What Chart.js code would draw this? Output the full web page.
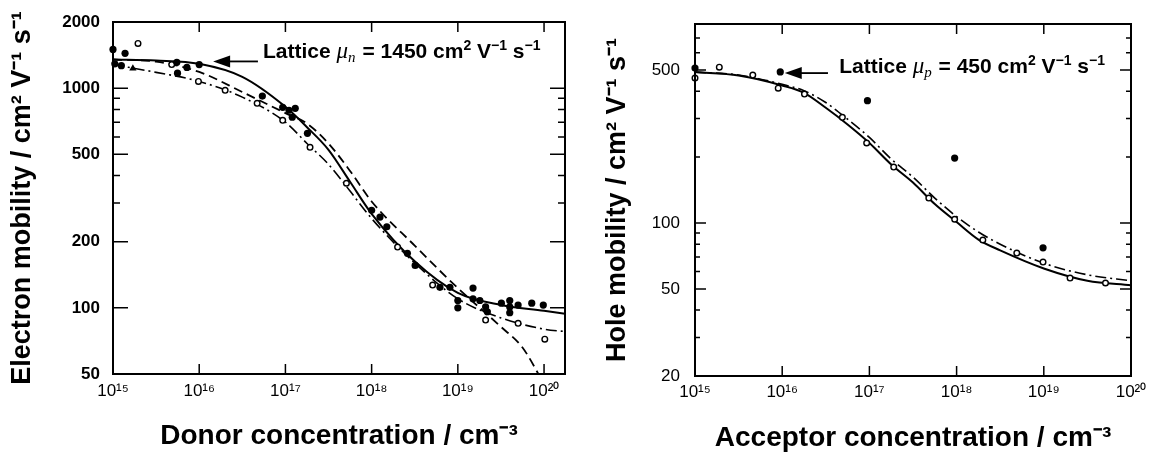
<!DOCTYPE html>
<html><head><meta charset="utf-8">
<script src="https://cdn.jsdelivr.net/npm/chart.js@4.4.1/dist/chart.umd.min.js"></script>
<style>
html,body{margin:0;padding:0;background:#fff;}
#wrap{position:relative;width:1160px;height:457px;overflow:hidden;}
.c{position:absolute;top:0;width:580px;height:457px;}
canvas{display:block;}
</style></head><body>
<div id="wrap">
<div class="c" style="left:0"><canvas id="left" width="580" height="457" style="width:580px;height:457px"></canvas></div>
<div class="c" style="left:580px"><canvas id="right" width="580" height="457" style="width:580px;height:457px"></canvas></div>
</div>
<script>
// ---------- tick labels ----------
const xTickVals = [1e15, 1e16, 1e17, 1e18, 1e19, 1e20];
const xTickLabels = ['10¹⁵', '10¹⁶', '10¹⁷', '10¹⁸', '10¹⁹', '10²⁰'];
const yMajorLeft = [50, 100, 200, 500, 1000, 2000];
const yMajorLeftLabels = ['50', '100', '200', '500', '1000', '2000'];
const yMinorLeft = [300, 400, 600, 700, 800, 900];
const yMajorRight = [20, 50, 100, 500];
const yMajorRightLabels = ['20', '50', '100', '500'];
const yMinorRight = [30, 40, 60, 70, 80, 90, 200, 300, 400, 600, 700];

// ---------- electron mobility vs donor concentration (left) ----------
const nSolidL = [1e15, 3.16e15, 1e16, 3.16e16, 1e17, 1.78e17, 3.16e17, 5.62e17, 1e18, 3.16e18, 1e19, 3.16e19, 1e20, 1.75e20];
const muSolidL = [1350, 1335, 1290, 1125, 822, 664, 524, 375, 268, 163, 117, 103, 97, 94];
const nDashL = [1e15, 3.16e15, 1e16, 3.16e16, 1e17, 1.78e17, 3.16e17, 5.62e17, 1e18, 3.16e18, 1e19, 3.16e19, 5.62e19, 1e20];
const muDashL = [1350, 1320, 1185, 960, 770, 690, 560, 420, 305, 192, 123, 82, 66, 45];
const nDashDotL = [1e15, 3.16e15, 1e16, 3.16e16, 1e17, 1.78e17, 3.16e17, 5.62e17, 1e18, 3.16e18, 1e19, 3.16e19, 1e20, 1.75e20];
const muDashDotL = [1280, 1180, 1073, 910, 700, 560, 450, 340, 255, 160, 110, 90, 80, 78];
const nFilledL = [1e15, 1.38e15, 1.05e15, 1.25e15, 5.5e15, 5.6e15, 7.2e15, 1e16, 5.4e16, 9.3e16, 1.1e17, 1.3e17, 1.2e17, 1.8e17, 1e18, 1.25e18, 1.5e18, 2.6e18, 3.2e18, 6.2e18, 8.1e18, 1e19, 1e19, 1.5e19, 1.5e19, 1.8e19, 2.1e19, 2.2e19, 3.2e19, 4e19, 4e19, 4e19, 5e19, 7.2e19, 9.8e19];
const muFilledL = [1500, 1440, 1290, 1265, 1310, 1170, 1243, 1280, 920, 818, 793, 809, 737, 623, 278, 259, 234, 177, 156, 124, 124, 108, 100, 123, 110, 108, 101, 96, 105, 108, 101, 95, 103, 105, 103];
const nOpenL = [1.95e15, 4.8e15, 9.8e15, 2e16, 4.7e16, 9.3e16, 1.93e17, 5.1e17, 2e18, 5.1e18, 2.1e19, 5e19, 1.02e20];
const muOpenL = [1598, 1280, 1073, 977, 853, 714, 538, 369, 189, 127, 88, 85, 72];
const nTriL = [1.7e15];
const muTriL = [1230];

// ---------- hole mobility vs acceptor concentration (right) ----------
const nSolidR = [1e15, 3.16e15, 1e16, 1.78e16, 3.16e16, 5.62e16, 1e17, 1.78e17, 3.16e17, 5.62e17, 1e18, 1.78e18, 3.16e18, 1e19, 3.16e19, 1e20];
const muSolidR = [489, 472, 425, 393, 336, 282, 232, 185, 153, 122, 101, 84, 75, 62, 54.5, 52];
const nDashDotR = [1e15, 3.16e15, 1e16, 1.78e16, 3.16e16, 5.62e16, 1e17, 1.78e17, 3.16e17, 5.62e17, 1e18, 1.78e18, 3.16e18, 1e19, 3.16e19, 1e20];
const muDashDotR = [489, 474, 430, 402, 355, 298, 246, 196, 162, 130, 107, 91, 80, 65.5, 58, 54.5];
const nFilledR = [1e15, 9.5e15, 9.5e16, 9.5e17, 9.8e18];
const muFilledR = [510, 490, 362, 198, 77];
const nOpenR = [1e15, 1.9e15, 4.6e15, 9e15, 1.8e16, 4.9e16, 9.3e16, 1.9e17, 4.8e17, 9.5e17, 2e18, 4.9e18, 9.8e18, 2e19, 5.1e19];
const muOpenR = [459, 515, 474, 413, 388, 304, 232, 180, 130, 104, 83.6, 72.9, 66.3, 56, 53.2];

const FONT = '"Liberation Sans", Arial, Helvetica, sans-serif';
const SERIF = '"Liberation Serif", "DejaVu Serif", serif';

function pts(xs, ys) { return xs.map((x, i) => ({ x: x, y: ys[i] })); }

function lineDs(xs, ys, dash, width) {
  return { data: pts(xs, ys), showLine: true, borderColor: '#000', borderWidth: width,
    borderDash: dash, pointRadius: 0, fill: false, tension: 0.4, cubicInterpolationMode: 'monotone' };
}
function filledDs(xs, ys) {
  return { data: pts(xs, ys), showLine: false, pointRadius: 3.6, pointStyle: 'circle',
    backgroundColor: '#000', borderColor: '#000', borderWidth: 0, clip: false };
}
function openDs(xs, ys) {
  return { data: pts(xs, ys), showLine: false, pointRadius: 2.8, pointStyle: 'circle',
    backgroundColor: '#fff', borderColor: '#000', borderWidth: 1.4, clip: false };
}
function triDs(xs, ys) {
  return { data: pts(xs, ys), showLine: false, pointRadius: 4.2, pointStyle: 'triangle',
    backgroundColor: '#000', borderColor: '#000', borderWidth: 0, clip: false };
}

function framePlugin(cfg) {
  return {
    id: 'frameTicks',
    afterDatasetsDraw(chart) {
      const { ctx, chartArea: a, scales: { x, y } } = chart;
      ctx.save();
      ctx.strokeStyle = '#000';
      ctx.lineWidth = 1.5;
      ctx.beginPath();
      cfg.xTicks.forEach(v => {
        const px = x.getPixelForValue(v);
        ctx.moveTo(px, a.bottom); ctx.lineTo(px, a.bottom - cfg.xTickLen);
        ctx.moveTo(px, a.top); ctx.lineTo(px, a.top + cfg.xTickLen);
      });
      cfg.yMajor.forEach(v => {
        const py = y.getPixelForValue(v);
        ctx.moveTo(a.left, py); ctx.lineTo(a.left + cfg.yMajorLen, py);
        ctx.moveTo(a.right, py); ctx.lineTo(a.right - cfg.yMajorLen, py);
      });
      cfg.yMinor.forEach(v => {
        const py = y.getPixelForValue(v);
        ctx.moveTo(a.left, py); ctx.lineTo(a.left + cfg.yMinorLen, py);
        ctx.moveTo(a.right, py); ctx.lineTo(a.right - cfg.yMinorLen, py);
      });
      ctx.stroke();
      ctx.lineWidth = 2;
      ctx.strokeRect(a.left, a.top, a.right - a.left, a.bottom - a.top);
      ctx.restore();
    }
  };
}

function annotPlugin(cfg) {
  return {
    id: 'lattice',
    afterDraw(chart) {
      const { ctx, scales: { x, y } } = chart;
      const an = cfg.annot;
      ctx.save();
      const tx = x.getPixelForValue(an.tipN), ty = y.getPixelForValue(an.tipMu);
      const ex = x.getPixelForValue(an.tailN);
      ctx.strokeStyle = '#000'; ctx.fillStyle = '#000'; ctx.lineWidth = 1.8;
      ctx.beginPath(); ctx.moveTo(tx + 14, ty); ctx.lineTo(ex, ty); ctx.stroke();
      ctx.beginPath(); ctx.moveTo(tx, ty); ctx.lineTo(tx + 17, ty - 6); ctx.lineTo(tx + 17, ty + 6); ctx.closePath(); ctx.fill();
      let px = x.getPixelForValue(an.textN);
      const py = y.getPixelForValue(an.textMu);
      ctx.textBaseline = 'alphabetic'; ctx.textAlign = 'left';
      an.segs.forEach(s => {
        ctx.font = s.font;
        ctx.fillText(s.t, px, py + (s.dy || 0));
        px += ctx.measureText(s.t).width + (s.gap || 0);
      });
      ctx.restore();
    }
  };
}

function makeChart(id, cfg) {
  return new Chart(document.getElementById(id), {
    type: 'scatter',
    data: { datasets: cfg.datasets },
    options: {
      responsive: false, animation: false, devicePixelRatio: 1,
      layout: { padding: cfg.padding },
      plugins: { legend: { display: false }, tooltip: { enabled: false } },
      scales: {
        x: {
          type: 'logarithmic', min: cfg.xMin, max: cfg.xMax,
          grid: { display: false, drawTicks: false }, border: { display: false },
          afterBuildTicks: s => { s.ticks = cfg.xTicks.map(v => ({ value: v })); },
          afterFit: s => { s.height = cfg.xHeight; s.paddingLeft = 0; s.paddingRight = 0; },
          ticks: { autoSkip: false, maxRotation: 0, minRotation: 0, padding: cfg.xPad, color: '#000',
            font: { family: FONT, size: 17 }, callback: (v, i) => cfg.xLabels[i] },
          title: { display: true, text: cfg.xTitle, color: '#000',
            font: { family: FONT, size: 28, weight: 'bold' }, padding: { top: 0, bottom: cfg.xTitlePad } }
        },
        y: {
          type: 'logarithmic', min: cfg.yMin, max: cfg.yMax,
          grid: { display: false, drawTicks: false }, border: { display: false },
          afterBuildTicks: s => { s.ticks = cfg.yMajor.map(v => ({ value: v })); },
          afterFit: s => { s.width = cfg.yWidth; s.paddingTop = 0; s.paddingBottom = 0; },
          ticks: { autoSkip: false, padding: cfg.yPad, color: '#000',
            font: { family: FONT, size: 17, weight: cfg.yLabelWeight }, callback: (v, i) => cfg.yLabels[i] },
          title: { display: true, text: cfg.yTitle, color: '#000',
            font: { family: FONT, size: 27, weight: 'bold' }, padding: { top: cfg.yTitlePad, bottom: 0 } }
        }
      }
    },
    plugins: [framePlugin(cfg), annotPlugin(cfg)]
  });
}

const bold = sz => 'bold ' + sz + 'px ' + FONT;

makeChart('left', {
  padding: { left: 0, right: 15, top: 22, bottom: 0 },
  xMin: 1e15, xMax: 1.75e20, yMin: 50, yMax: 2000,
  xTicks: xTickVals, xLabels: xTickLabels, yMajor: yMajorLeft, yLabels: yMajorLeftLabels, yMinor: yMinorLeft,
  xHeight: 83, yWidth: 113, xPad: 7, yPad: 13, yLabelWeight: 'bold',
  xTickLen: 10, yMajorLen: 15, yMinorLen: 7,
  xTitle: 'Donor concentration / cm⁻³', xTitlePad: 4,
  yTitle: 'Electron mobility / cm² V⁻¹ s⁻¹', yTitlePad: 6,
  datasets: [
    triDs(nTriL, muTriL),
    filledDs(nFilledL, muFilledL),
    openDs(nOpenL, muOpenL),
    lineDs(nSolidL, muSolidL, [], 2),
    lineDs(nDashL, muDashL, [9, 5], 1.8),
    lineDs(nDashDotL, muDashDotL, [11, 4, 2, 4], 1.6)
  ],
  annot: {
    tipN: 1.45e16, tipMu: 1323, tailN: 4.8e16, textN: 5.5e16, textMu: 1365,
    segs: [
      { t: 'Lattice ', font: bold(21) },
      { t: 'μ', font: 'italic 23px ' + SERIF },
      { t: 'n', font: 'italic 15px ' + SERIF, dy: 4, gap: 1 },
      { t: ' = 1450 cm', font: bold(21) },
      { t: '2', font: bold(14), dy: -8 },
      { t: ' V', font: bold(21) },
      { t: '−1', font: bold(14), dy: -8 },
      { t: ' s', font: bold(21) },
      { t: '−1', font: bold(14), dy: -8 }
    ]
  }
});

makeChart('right', {
  padding: { left: 0, right: 29, top: 24, bottom: 0 },
  xMin: 1e15, xMax: 1e20, yMin: 20, yMax: 811,
  xTicks: xTickVals, xLabels: xTickLabels, yMajor: yMajorRight, yLabels: yMajorRightLabels, yMinor: yMinorRight,
  xHeight: 81, yWidth: 115, xPad: 6, yPad: 15, yLabelWeight: 'normal',
  xTickLen: 10, yMajorLen: 11, yMinorLen: 5,
  xTitle: 'Acceptor concentration / cm⁻³', xTitlePad: 2,
  yTitle: 'Hole mobility / cm² V⁻¹ s⁻¹', yTitlePad: 21,
  datasets: [
    filledDs(nFilledR, muFilledR),
    openDs(nOpenR, muOpenR),
    lineDs(nSolidR, muSolidR, [], 2),
    lineDs(nDashDotR, muDashDotR, [11, 4, 2, 4], 1.6)
  ],
  annot: {
    tipN: 1.07e16, tipMu: 484, tailN: 3.35e16, textN: 4.5e16, textMu: 484,
    segs: [
      { t: 'Lattice ', font: bold(21) },
      { t: 'μ', font: 'italic 23px ' + SERIF },
      { t: 'p', font: 'italic 15px ' + SERIF, dy: 4, gap: 1 },
      { t: ' = 450 cm', font: bold(21) },
      { t: '2', font: bold(14), dy: -8 },
      { t: ' V', font: bold(21) },
      { t: '−1', font: bold(14), dy: -8 },
      { t: ' s', font: bold(21) },
      { t: '−1', font: bold(14), dy: -8 }
    ]
  }
});
</script>
</body></html>
